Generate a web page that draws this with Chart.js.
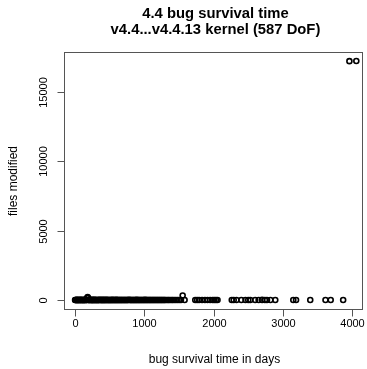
<!DOCTYPE html>
<html>
<head>
<meta charset="utf-8">
<script src="https://cdn.jsdelivr.net/npm/chart.js@4.4.1/dist/chart.umd.min.js"></script>
<style>
html,body{margin:0;padding:0;background:#fff;}
#wrap{width:367px;height:369px;}
</style>
</head>
<body>
<div id="wrap"><canvas id="c" width="367" height="369"></canvas></div>
<script>
const titleLines = ["4.4 bug survival time", "v4.4...v4.4.13 kernel (587 DoF)"];
const xAxisTitle = "bug survival time in days";
const yAxisTitle = "files modified";
const xTickValues = [0, 1000, 2000, 3000, 4000];
const yTickValues = [0, 5000, 10000, 15000];

// dense block of short-lived bugs
const denseDays = [
  0, 5, 11, 17, 22, 28, 33, 39, 45, 50,
  56, 62, 67, 73, 79, 84, 90, 96, 101, 107,
  113, 118, 124, 130, 135, 141, 147, 152, 158, 164,
  170, 176, 181, 186, 191, 197, 203, 209, 215, 221,
  227, 233, 239, 245, 251, 257, 263, 269, 275, 281,
  288, 294, 300, 306, 313, 319, 325, 332, 338, 345,
  351, 358, 364, 371, 377, 384, 391, 397, 404, 411,
  418, 425, 432, 438, 445, 452, 459, 467, 474, 481,
  488, 495, 503, 510, 517, 525, 532, 540, 547, 555,
  563, 570, 578, 586, 594, 602, 610, 618, 626, 634,
  642, 650, 658, 667, 675, 683, 692, 700, 709, 717,
  726, 735, 743, 752, 761, 770, 779, 788, 797, 806,
  815, 824, 834, 843, 852, 862, 871, 881, 890, 900,
  910, 920, 929, 939, 949, 959, 969, 980, 990, 1000,
  1010, 1021, 1031, 1042, 1052, 1063, 1074, 1084, 1095, 1106,
  1117, 1128, 1139, 1150, 1161, 1173, 1184, 1195, 1207, 1218,
  1230, 1241, 1253, 1265, 1277, 1289, 1300, 1318, 1337, 1352,
  1371, 1393, 1410, 1432, 1455, 1478, 1502, 1528, 1553, 1581
];
const denseFiles = [
  3, 1, 2, 5, 1, 8, 2, 1, 4, 2,
  6, 1, 3, 2, 12, 1, 2, 4, 1, 7,
  2, 1, 5, 3, 1, 9, 2, 22, 1, 3,
  4, 150, 220, 160, 2, 6, 1, 3, 15, 2,
  1, 5, 2, 8, 1, 3, 1, 4, 2, 11,
  1, 2, 5, 1, 3, 2, 7, 1, 2, 4,
  1, 18, 2, 1, 6, 3, 1, 2, 9, 1,
  4, 2, 1, 3, 2, 14, 1, 5, 2, 1,
  3, 6, 2, 1, 4, 2, 1, 8, 3, 1,
  2, 5, 1, 2, 10, 1, 3, 2, 1, 6,
  2, 4, 1, 3, 2, 1, 7, 2, 1, 4,
  3, 1, 2, 5, 1, 2, 16, 1, 3, 2,
  1, 4, 2, 1, 6, 3, 1, 2, 8, 1,
  2, 3, 1, 4, 2, 1, 5, 2, 1, 3,
  9, 1, 2, 1, 4, 2, 1, 3, 2, 1,
  5, 2, 3, 1, 2, 6, 1, 4, 2, 1,
  2, 3, 1, 7, 2, 1, 4, 1, 2, 3,
  1, 5, 2, 3, 1, 2, 4, 1, 330, 2
];
// sparser long-lived bugs
const sparseDays = [
  1735, 1762, 1790, 1833, 1875, 1912, 1950, 1985, 2010, 2034, 2056,
  2262, 2290, 2330, 2400, 2460, 2500, 2530, 2600, 2650, 2700, 2740, 2770, 2820, 2890,
  3150, 3190, 3395, 3615, 3690, 3870
];
const sparseFiles = [
  2, 5, 1, 3, 1, 7, 2, 1, 4, 2, 1,
  3, 1, 2, 6, 1, 2, 4, 1, 2, 9, 1, 3, 2, 1,
  2, 1, 4, 1, 3, 2
];
// huge outliers
const outlierDays = [3960, 4060];
const outlierFiles = [17240, 17250];

const allDays = denseDays.concat(sparseDays, outlierDays);
const allFiles = denseFiles.concat(sparseFiles, outlierFiles);
const points = allDays.map((d, i) => ({x: d, y: allFiles[i]}));

const FONT = '"Liberation Sans", Arial, Helvetica, sans-serif';

const rAxesPlugin = {
  id: 'rAxes',
  afterDraw(chart) {
    const ctx = chart.ctx;
    const a = chart.chartArea;
    const xs = chart.scales.x, ys = chart.scales.y;
    ctx.save();
    // plot box
    ctx.strokeStyle = '#555';
    ctx.lineWidth = 1;
    ctx.strokeRect(Math.round(a.left) + 0.5, Math.round(a.top) + 0.5,
                   Math.round(a.right - a.left) - 1, Math.round(a.bottom - a.top) - 1);
    // x axis ticks and labels
    ctx.fillStyle = '#000';
    ctx.font = '11px ' + FONT;
    ctx.textAlign = 'center';
    ctx.textBaseline = 'middle';
    const yb = Math.round(a.bottom) - 0.5;
    xTickValues.forEach(v => {
      const px = Math.round(xs.getPixelForValue(v)) + 0.5;
      ctx.beginPath(); ctx.moveTo(px, yb); ctx.lineTo(px, yb + 7); ctx.stroke();
      ctx.fillText(String(v), px, yb + 14);
    });
    // y axis ticks and labels (rotated, R style)
    const xl = Math.round(a.left) + 0.5;
    yTickValues.forEach(v => {
      const py = Math.round(ys.getPixelForValue(v)) + 0.5;
      ctx.beginPath(); ctx.moveTo(xl, py); ctx.lineTo(xl - 7, py); ctx.stroke();
      ctx.save();
      ctx.translate(xl - 21, py);
      ctx.rotate(-Math.PI / 2);
      ctx.fillText(String(v), 0, 0);
      ctx.restore();
    });
    // axis titles
    const cx = (a.left + a.right) / 2 + 1;
    const cy = (a.top + a.bottom) / 2;
    ctx.font = '12px ' + FONT;
    ctx.fillText(xAxisTitle, cx, 360);
    ctx.save();
    ctx.translate(14, cy);
    ctx.rotate(-Math.PI / 2);
    ctx.fillText(yAxisTitle, 0, 0);
    ctx.restore();
    // main title
    ctx.font = 'bold 14.8px ' + FONT;
    ctx.fillText(titleLines[0], cx + 1, 14);
    ctx.fillText(titleLines[1], cx + 1, 30);
    ctx.restore();
  }
};

new Chart(document.getElementById('c'), {
  type: 'scatter',
  data: {
    datasets: [{
      data: points,
      pointStyle: 'circle',
      pointRadius: 2.5,
      pointBorderWidth: 1.6,
      borderColor: '#000',
      backgroundColor: 'rgba(0,0,0,0)',
      pointHoverRadius: 2.5
    }]
  },
  options: {
    responsive: false,
    animation: false,
    events: [],
    layout: {padding: {left: 64, right: 4, top: 52, bottom: 59}},
    plugins: {legend: {display: false}, tooltip: {enabled: false}, title: {display: false}},
    scales: {
      x: {type: 'linear', min: -160, max: 4155, display: false},
      y: {type: 'linear', min: -720, max: 17900, display: false}
    }
  },
  plugins: [rAxesPlugin]
});
</script>
</body>
</html>
